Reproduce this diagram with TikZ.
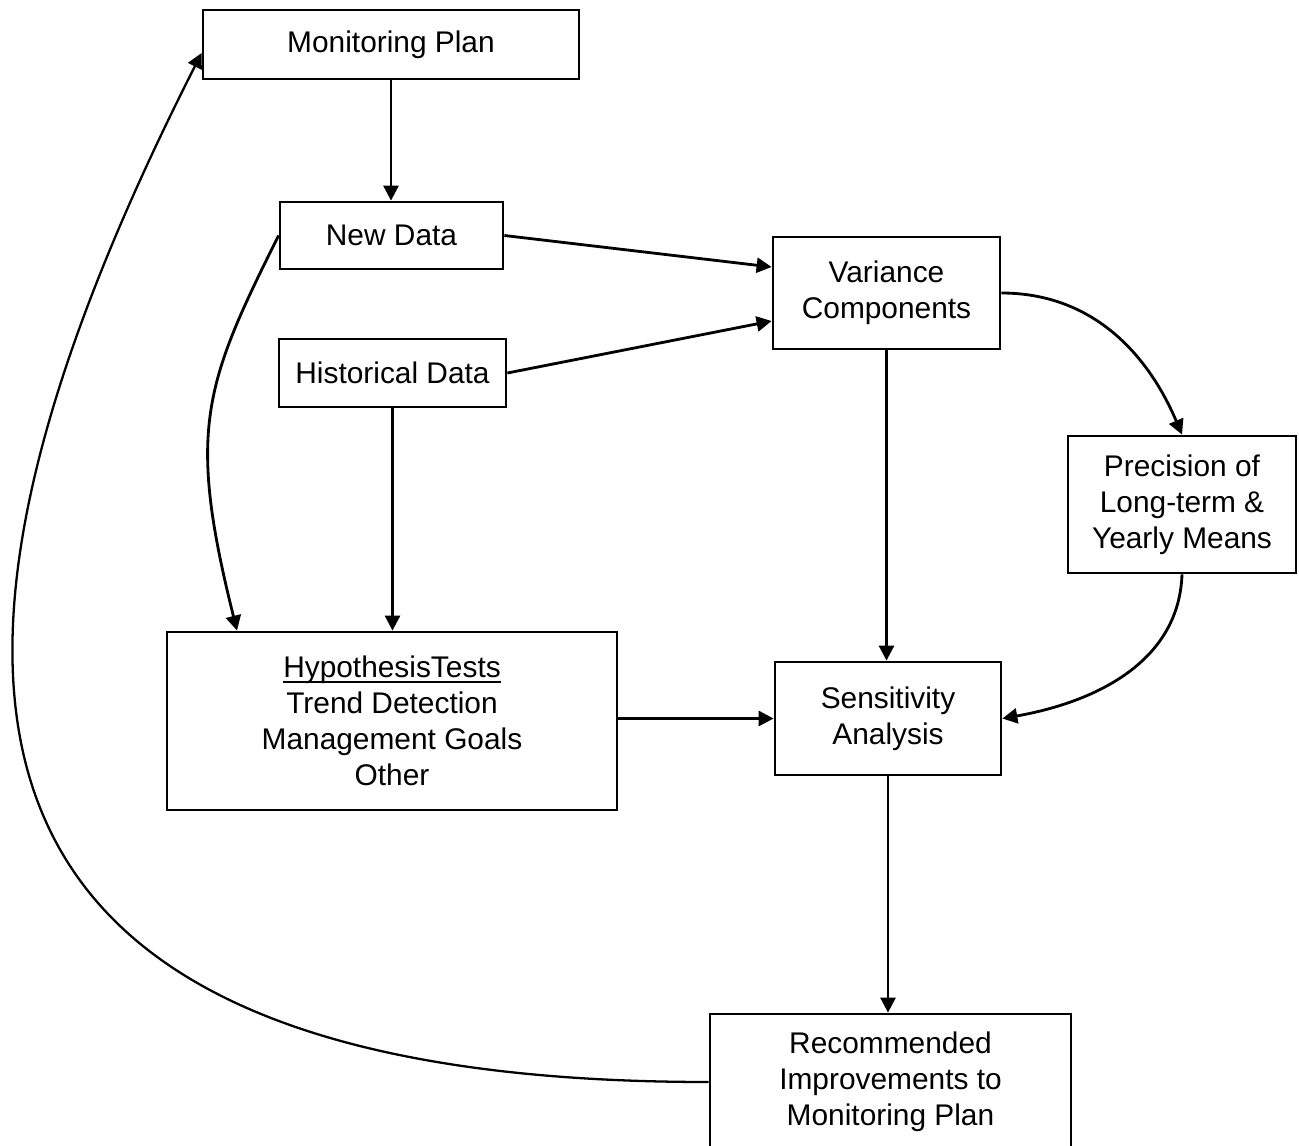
\documentclass[tikz,border=0pt]{standalone}
\usepackage{fontspec}
\setmainfont{Liberation Sans}
\usetikzlibrary{arrows.meta}
\newcommand{\lowline}[1]{\setbox0\hbox{#1}\rlap{\rule[-0.17em]{\wd0}{0.06em}}\box0}

\begin{document}
\begin{tikzpicture}[x=0.02cm,y=-0.02cm,>={Triangle[length=3mm,width=3mm]},
  line width=1.6pt,font=\fontsize{17}{20.5}\selectfont,
  block/.style={draw,align=center,inner sep=0pt}]
\useasboundingbox (0,0) rectangle (1299,1146);

% define the boxes
  \node[block,minimum width=7.52cm,minimum height=1.38cm] (plan) at (391,44.5)
{Monitoring Plan};
  \node[block,minimum width=4.46cm,minimum height=1.34cm] (newdata) at (391.5,235.5)
{New Data};
  \node[block,minimum width=4.54cm,minimum height=1.36cm] (histdata) at (392.5,373)
{Historical Data};
  \node[block,minimum width=4.54cm,minimum height=2.24cm] (varcomp) at (886.5,293)
{Variance\\Components};
  \node[block,minimum width=4.56cm,minimum height=2.74cm] (precision) at (1182,504.5)
{Precision of\\Long-term \&\\Yearly Means};
  \node[block,minimum width=9.0cm,minimum height=3.56cm] (hyptest) at (392,721)
{\lowline{HypothesisTests}\\Trend Detection\\Management Goals\\Other};
  \node[block,minimum width=4.52cm,minimum height=2.26cm] (sens) at (888,718.5)
{Sensitivity\\Analysis};
  \node[block,minimum width=7.22cm,minimum height=2.72cm] (recomm) at (890.5,1082)
{Recommended\\Improvements to\\Monitoring Plan};

% define the links
  \path[->] (plan.south) edge (plan.south |- newdata.north)
        (newdata.east) edge ([yshift=0.52cm]varcomp.west)
        (histdata.east) edge ([yshift=-0.56cm]varcomp.west)
        (varcomp.east) edge [out=0,in=113] (precision.north)
        (varcomp.south) edge (varcomp.south |- sens.north)
        (histdata.south) edge (histdata.south |- hyptest.north)
        (hyptest.east |- sens.west) edge (sens.west)
        (precision.south) edge [out=-92,in=10] (sens.east)
        (sens.south) edge (sens.south |- recomm.north);
  \draw[->] (newdata.west) .. controls +(-75,150) and +(-50,-200) .. ([xshift=-3.1cm]hyptest.north);
  \draw[->,line width=1.3pt] (recomm.west) .. controls +(-760,0) and +(-335,660) .. ([yshift=-0.17cm]plan.west);

\end{tikzpicture}
\end{document}
